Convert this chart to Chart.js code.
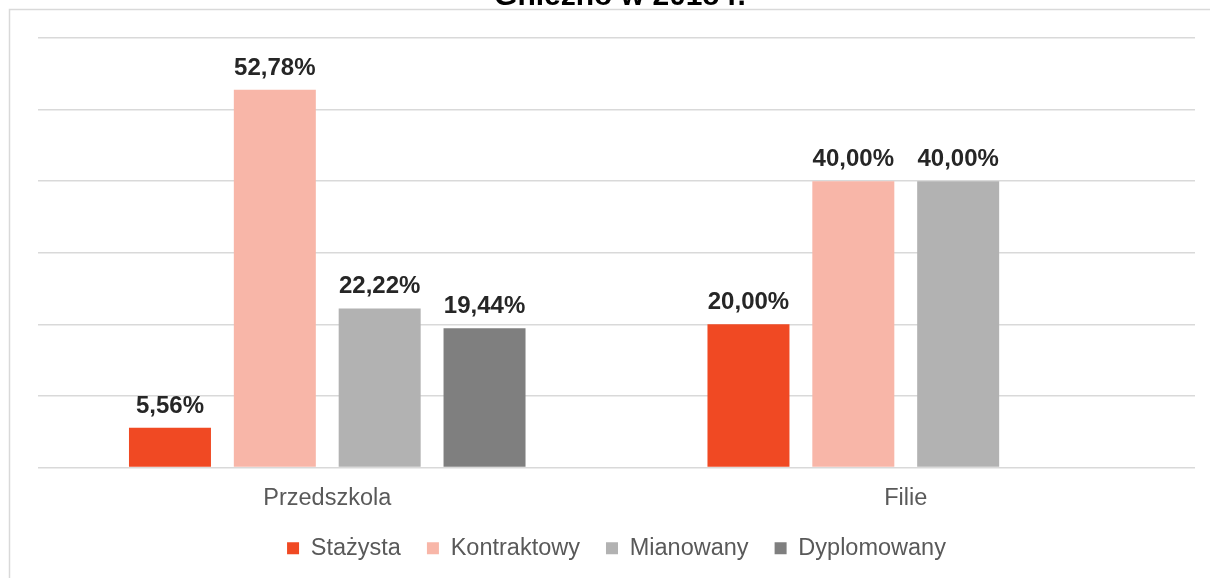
<!DOCTYPE html>
<html>
<head>
<meta charset="utf-8">
<script src="https://cdn.jsdelivr.net/npm/chart.js@4/dist/chart.umd.min.js"></script>
<style>
  html, body { margin: 0; padding: 0; background: #ffffff; }
  #wrap { position: relative; width: 1210px; height: 578px; }
  canvas { display: block; }
</style>
</head>
<body>
<div id="wrap"><canvas id="c" width="1210" height="578"></canvas></div>
<script>
const titleText = 'Gniezno w 2018 r.';
const categories = ['Przedszkola', 'Filie'];
const seriesNames = ['Stażysta', 'Kontraktowy', 'Mianowany', 'Dyplomowany'];
const stazysta = [5.56, 20.00];
const kontraktowy = [52.78, 40.00];
const mianowany = [22.22, 40.00];
const dyplomowany = [19.44, null];
const seriesColors = ['#F04923', '#F8B6A8', '#B2B2B2', '#7F7F7F'];
const yMax = 60;
const yStep = 10;

const FONT = '"Liberation Sans", Arial, Helvetica, sans-serif';

const frameAndTitle = {
  id: 'frameAndTitle',
  beforeDraw(chart) {
    const ctx = chart.ctx;
    ctx.save();
    ctx.fillStyle = '#ffffff';
    ctx.fillRect(0, 0, chart.width, chart.height);
    ctx.strokeStyle = '#d9d9d9';
    ctx.lineWidth = 1.5;
    ctx.beginPath();
    ctx.moveTo(9.5, chart.height + 5);
    ctx.lineTo(9.5, 9.5);
    ctx.lineTo(chart.width + 5, 9.5);
    ctx.stroke();
    ctx.fillStyle = '#000000';
    ctx.font = 'bold 30px ' + FONT;
    ctx.textAlign = 'center';
    ctx.textBaseline = 'alphabetic';
    ctx.fillText(titleText, 620, 5);
    ctx.restore();
  }
};

const valueLabels = {
  id: 'valueLabels',
  afterDatasetsDraw(chart) {
    const ctx = chart.ctx;
    ctx.save();
    ctx.font = 'bold 24px ' + FONT;
    ctx.fillStyle = '#262626';
    ctx.textAlign = 'center';
    ctx.textBaseline = 'alphabetic';
    chart.data.datasets.forEach((ds, di) => {
      const meta = chart.getDatasetMeta(di);
      meta.data.forEach((bar, i) => {
        const v = ds.data[i];
        if (v === null || v === undefined) return;
        const txt = v.toFixed(2).replace('.', ',') + '%';
        ctx.fillText(txt, bar.x, bar.y - 15);
      });
    });
    ctx.restore();
  }
};

const seriesData = [stazysta, kontraktowy, mianowany, dyplomowany];

new Chart(document.getElementById('c'), {
  type: 'bar',
  data: {
    labels: categories,
    datasets: seriesNames.map((name, i) => ({
      label: name,
      data: seriesData[i],
      backgroundColor: seriesColors[i],
      borderWidth: 0,
      categoryPercentage: 0.725,
      barPercentage: 0.782
    }))
  },
  options: {
    responsive: false,
    animation: false,
    layout: { padding: { left: 38, right: 15, top: 38, bottom: 8 } },
    plugins: {
      title: { display: false },
      tooltip: { enabled: false },
      legend: {
        position: 'bottom',
        labels: {
          boxWidth: 12,
          boxHeight: 12,
          padding: 26,
          color: '#595959',
          font: { family: FONT, size: 23.5 }
        }
      }
    },
    scales: {
      x: {
        grid: { display: false, drawTicks: false },
        border: { display: false },
        afterFit(axis) { axis.height = 43; },
        ticks: {
          color: '#595959',
          font: { family: FONT, size: 23.5 },
          padding: 17
        }
      },
      y: {
        min: 0,
        max: yMax,
        afterFit(axis) { axis.width = 0; },
        ticks: { display: false, stepSize: yStep },
        grid: { color: '#d9d9d9', lineWidth: 1.5, drawTicks: false },
        border: { display: false }
      }
    }
  },
  plugins: [frameAndTitle, valueLabels]
});
</script>
</body>
</html>
